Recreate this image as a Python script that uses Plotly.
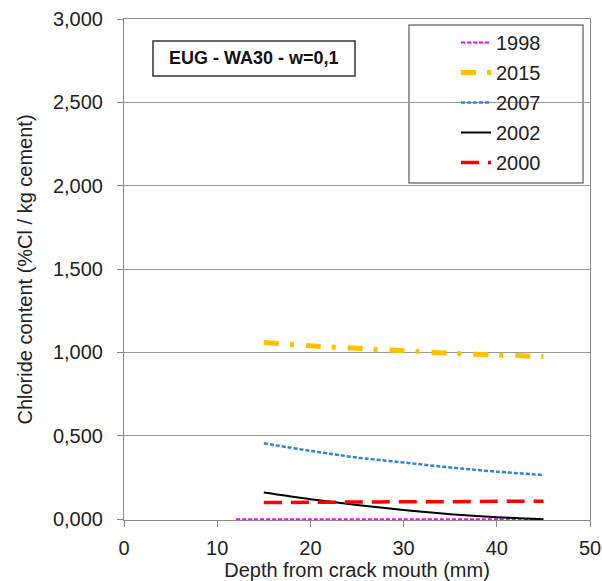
import plotly.graph_objects as go

# Depth from crack mouth (mm)
depth = [15, 20, 25, 30, 35, 40, 45]
depth_1998 = [12, 20, 30, 40, 45]

# Chloride content (% Cl / kg cement) per inspection year
cl_1998 = [0.0, 0.0, 0.0, 0.0, 0.0]
cl_2015 = [1.06, 1.04, 1.025, 1.01, 0.995, 0.985, 0.975]
cl_2007 = [0.455, 0.41, 0.37, 0.34, 0.31, 0.285, 0.265]
cl_2002 = [0.16, 0.12, 0.085, 0.055, 0.03, 0.012, 0.0]
cl_2000 = [0.100, 0.101, 0.103, 0.104, 0.105, 0.107, 0.108]

y_ticks = [0, 0.5, 1.0, 1.5, 2.0, 2.5, 3.0]
x_ticks = [0, 10, 20, 30, 40, 50]

FONT = "Liberation Sans, Arial, sans-serif"
W, H = 602, 581
L, R, T, B = 124, 12, 19, 61
PW, PH = W - L - R, H - T - B


def px_x(px):
    return (px - L) / PW


def px_y(py):
    return (H - B - py) / PH


series = [
    ("1998", depth_1998, cl_1998, dict(color="#FF00FF", width=2, dash="4px,2px")),
    ("2015", depth, cl_2015, dict(color="#FFC000", width=5, dash="15px,11px,4px,12px")),
    ("2007", depth, cl_2007, dict(color="#2F86D6", width=2.5, dash="4px,2px")),
    ("2002", depth, cl_2002, dict(color="#000000", width=2)),
    ("2000", depth, cl_2000, dict(color="#FF0000", width=3.5, dash="18px,9px")),
]

fig = go.Figure()
for name, xs, ys, line in series:
    fig.add_trace(go.Scatter(
        x=xs, y=ys, name=name, mode="lines", line=dict(shape="spline", **line),
        legendgroup=name,
    ))

fig.update_layout(
    width=W, height=H,
    margin=dict(l=L, r=R, t=T, b=B),
    paper_bgcolor="white", plot_bgcolor="white",
    separators=",.",
    font=dict(family=FONT, size=20, color="#222"),
    showlegend=True,
    legend=dict(
        x=px_x(456), y=px_y(23), xanchor="left", yanchor="top",
        bgcolor="rgba(0,0,0,0)", borderwidth=0,
        font=dict(size=20, color="#222"),
        tracegroupgap=1,
    ),
    xaxis=dict(
        range=[0, 50], tickvals=x_ticks, ticks="outside", ticklen=6,
        tickcolor="#888", showgrid=False, showline=True, linecolor="#888",
        linewidth=1, mirror=True, zeroline=False, automargin=False,
        layer="below traces", ticklabelstandoff=4,
        title=dict(text="Depth from crack mouth (mm)", standoff=2,
                   font=dict(size=20, color="#222")),
    ),
    yaxis=dict(
        range=[-0.005, 3.0], tickvals=y_ticks, tickformat=".3f", ticks="outside",
        ticklen=6, tickcolor="#888", showgrid=True, gridcolor="#999",
        gridwidth=1, showline=True, linecolor="#888", linewidth=1,
        mirror=True, zeroline=False, automargin=False,
        layer="below traces", ticklabelstandoff=10,
        title=dict(text="Chloride content (%Cl / kg cement)", standoff=14,
                   font=dict(size=20, color="#222")),
    ),
    shapes=[
        dict(type="rect", xref="paper", yref="paper",
             x0=px_x(409), x1=px_x(583), y0=px_y(183), y1=px_y(25),
             line=dict(color="#777", width=1.5), fillcolor="white", layer="below"),
        dict(type="rect", xref="paper", yref="paper",
             x0=px_x(153), x1=px_x(355), y0=px_y(76), y1=px_y(41),
             line=dict(color="#333", width=1.5), fillcolor="white", layer="below"),
    ],
    annotations=[
        dict(text="<b>EUG - WA30 - w=0,1</b>", xref="paper", yref="paper",
             x=px_x(254), y=px_y(58.5), xanchor="center", yanchor="middle",
             showarrow=False, font=dict(size=18, color="#111", family=FONT)),
    ],
)

fig.write_html("out.html")
